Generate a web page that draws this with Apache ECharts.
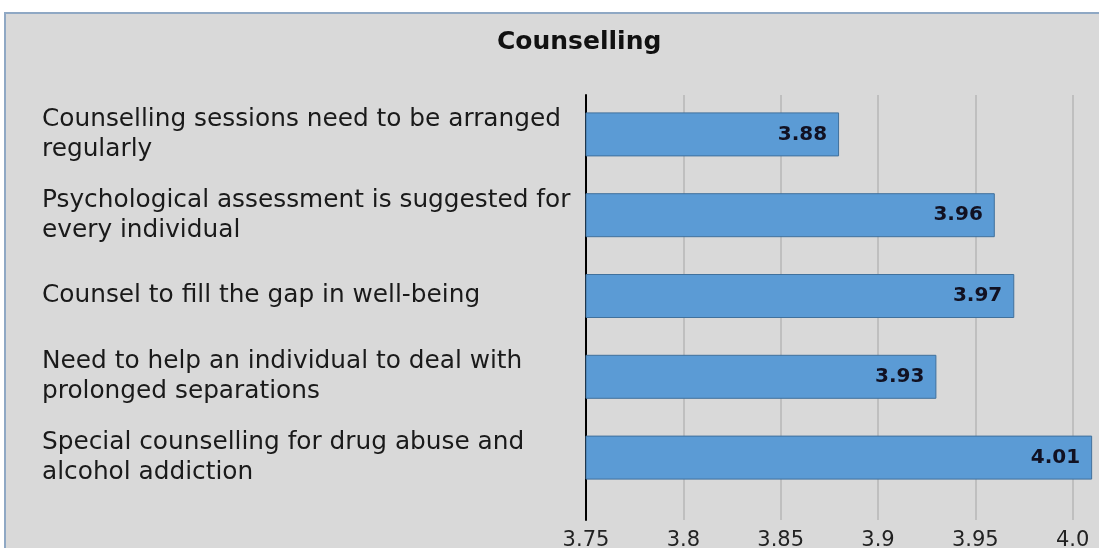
<!DOCTYPE html>
<html>
<head>
<meta charset="utf-8">
<title>Counselling</title>
<script src="https://cdn.jsdelivr.net/npm/echarts@6/dist/echarts.min.js"></script>
<style>
  html, body { margin: 0; padding: 0; background: #ffffff; overflow: hidden; width: 1099px; height: 548px; }
  #frame {
    position: absolute; left: 4px; top: 12px; width: 1230px; height: 580px;
    background: #d9d9d9; border: 2px solid #8fa8c4; box-sizing: border-box;
  }
  /* the canvas is wider than the page: the plot runs on past the right edge */
  #chart { position: absolute; left: 0; top: 0; width: 1220px; height: 548px; }
</style>
</head>
<body>
<div id="frame"></div>
<div id="chart"></div>
<script>
// Survey items (top to bottom) and their mean scores
const categories = [
  'Counselling sessions need to be arranged\nregularly',
  'Psychological assessment is suggested for\nevery individual',
  'Counsel to fill the gap in well-being',
  'Need to help an individual to deal with\nprolonged separations',
  'Special counselling for drug abuse and\nalcohol addiction'
];
const meanScores = [3.88, 3.96, 3.97, 3.93, 4.01];

// Value-axis ticks and their printed labels
const tickValues = [3.75, 3.8, 3.85, 3.9, 3.95, 4.0];
const tickLabels = ['3.75', '3.8', '3.85', '3.9', '3.95', '4.0'];

const FONT = 'DejaVu Sans, Verdana, sans-serif';
const AXIS_MIN = 3.75, AXIS_MAX = 4.05, STEP = 0.05;

function tickLabel(v) {
  const i = tickValues.findIndex(t => Math.abs(t - v) < 1e-6);
  return i >= 0 ? tickLabels[i] : '';
}

const chart = echarts.init(document.getElementById('chart'), null, { renderer: 'canvas' });

const PLOT_LEFT = 586, PLOT_WIDTH = 584;

chart.setOption({
  backgroundColor: 'transparent',
  animation: false,
  title: {
    text: 'Counselling',
    left: 492,
    top: 25,
    textStyle: { fontFamily: FONT, fontSize: 25, fontWeight: 'bold', color: '#111111' }
  },
  grid: [
    // frame: value axis labels, gridlines and the category baseline
    { left: PLOT_LEFT, width: PLOT_WIDTH, top: 95, height: 425, containLabel: false, outerBoundsMode: 'none' },
    // bars and category labels
    { left: PLOT_LEFT, width: PLOT_WIDTH, top: 94, height: 404, containLabel: false, outerBoundsMode: 'none' }
  ],
  xAxis: [
    {
      gridIndex: 0, type: 'value', min: AXIS_MIN, max: AXIS_MAX, interval: STEP,
      axisLine: { show: false }, axisTick: { show: false },
      splitLine: { show: true, lineStyle: { color: '#bfbfbf', width: 2 } },
      axisLabel: {
        margin: 10, fontFamily: FONT, fontSize: 21, color: '#222222',
        formatter: tickLabel
      }
    },
    {
      gridIndex: 1, type: 'value', min: AXIS_MIN, max: AXIS_MAX, interval: STEP,
      show: false
    }
  ],
  yAxis: [
    {
      gridIndex: 0, type: 'value', min: 0, max: 1,
      axisLine: { show: true, lineStyle: { color: '#000000', width: 2 } },
      axisTick: { show: false }, axisLabel: { show: false }, splitLine: { show: false }
    },
    {
      gridIndex: 1, type: 'category', data: categories, inverse: true,
      axisLine: { show: false }, axisTick: { show: false }, splitLine: { show: false },
      axisLabel: {
        align: 'left', margin: 544, fontFamily: FONT, fontSize: 24.8,
        lineHeight: 30, color: '#1a1a1a'
      }
    }
  ],
  series: [{
    type: 'bar',
    xAxisIndex: 1,
    yAxisIndex: 1,
    data: meanScores,
    barWidth: 44,
    itemStyle: { color: '#5b9bd5', borderColor: '#41719c', borderWidth: 1 },
    label: {
      show: true,
      position: 'insideRight',
      distance: 12,
      fontFamily: FONT,
      fontSize: 20,
      fontWeight: 'bold',
      color: '#111122',
      formatter: p => p.value.toFixed(2)
    }
  }]
});
</script>
</body>
</html>
